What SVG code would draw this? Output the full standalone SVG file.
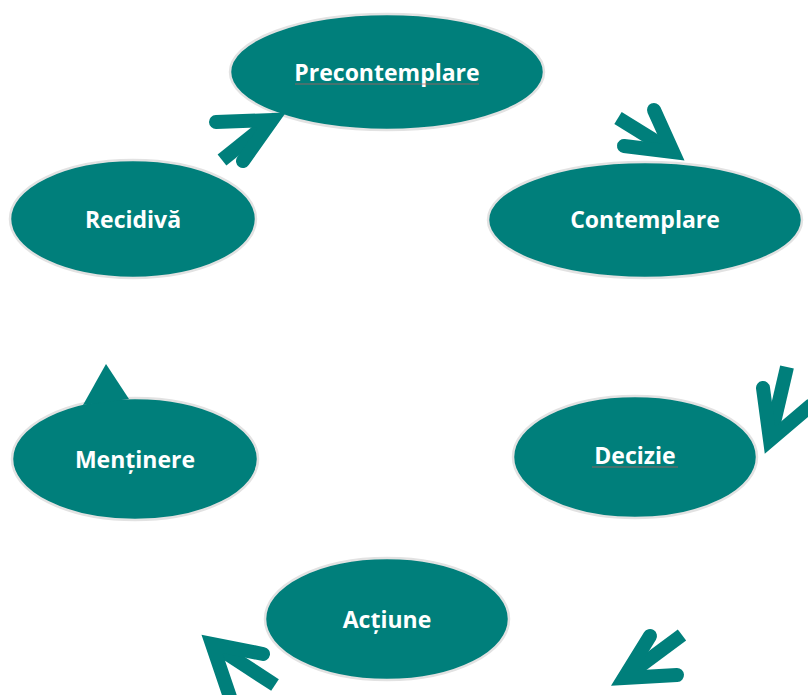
<svg xmlns="http://www.w3.org/2000/svg" width="808" height="695" viewBox="0 0 808 695">
  <style>
    .stage ellipse { fill: #007f7b; stroke: #e2e2e2; stroke-width: 2.5; }
    .stage text { fill: #ffffff; font-family: "Open Sans", "Liberation Sans", sans-serif; font-weight: bold; font-size: 23px; text-anchor: middle; }
    .arrow { fill: none; stroke: #007f7b; stroke-width: 14; stroke-linejoin: miter; stroke-miterlimit: 10; }
    .barb { stroke-linecap: round; }
    .shaft { stroke-linecap: butt; }
    .squiggle { stroke: #b06060; stroke-width: 1; opacity: 0.8; }
  </style>
  <rect width="808" height="695" fill="#ffffff"/>

  <!-- stages of the cycle -->
  <g id="precontemplare" class="stage">
    <ellipse cx="387" cy="72" rx="157" ry="58"/>
    <text x="387" y="81">Precontemplare</text>
    <line class="squiggle" x1="295" y1="84" x2="479" y2="84"/>
  </g>
  <g id="contemplare" class="stage">
    <ellipse cx="645" cy="220" rx="157" ry="58"/>
    <text x="645" y="228">Contemplare</text>
  </g>
  <g id="decizie" class="stage">
    <ellipse cx="635" cy="457" rx="122" ry="61"/>
    <text x="635" y="464">Decizie</text>
    <line class="squiggle" x1="592" y1="467" x2="678" y2="467"/>
  </g>
  <g id="actiune" class="stage">
    <ellipse cx="387" cy="619" rx="122" ry="61"/>
    <text x="387" y="628">Acțiune</text>
  </g>
  <g id="mentinere" class="stage">
    <ellipse cx="135" cy="459" rx="123" ry="61"/>
    <text x="135" y="468">Menținere</text>
  </g>
  <g id="recidiva" class="stage">
    <ellipse cx="133" cy="219" rx="123" ry="59"/>
    <text x="133" y="228">Recidivă</text>
  </g>

  <!-- connectors -->
  <g id="connectors">
    <g class="arrow">
      <path class="shaft" d="M272 120 L222 160"/>
      <path class="barb" d="M216 122 L272 120 L243 161"/>
    </g>
    <g class="arrow">
      <path class="shaft" d="M673 152 L618 118"/>
      <path class="barb" d="M654 110 L673 152 L624 146"/>
    </g>
    <g class="arrow">
      <path class="shaft" d="M770 440 L787 367"/>
      <path class="barb" d="M763 388 L770 440 L810 406"/>
    </g>
    <g class="arrow">
      <path class="shaft" d="M624 678 L682 635"/>
      <path class="barb" d="M650 636 L624 678 L677 675"/>
    </g>
    <g class="arrow">
      <path class="shaft" d="M212 644 L275 685"/>
      <path class="barb" d="M263 654 L212 644 L230 697"/>
    </g>
    <polygon points="106,364 83,405 129,399" fill="#007f7b"/>
  </g>
</svg>
